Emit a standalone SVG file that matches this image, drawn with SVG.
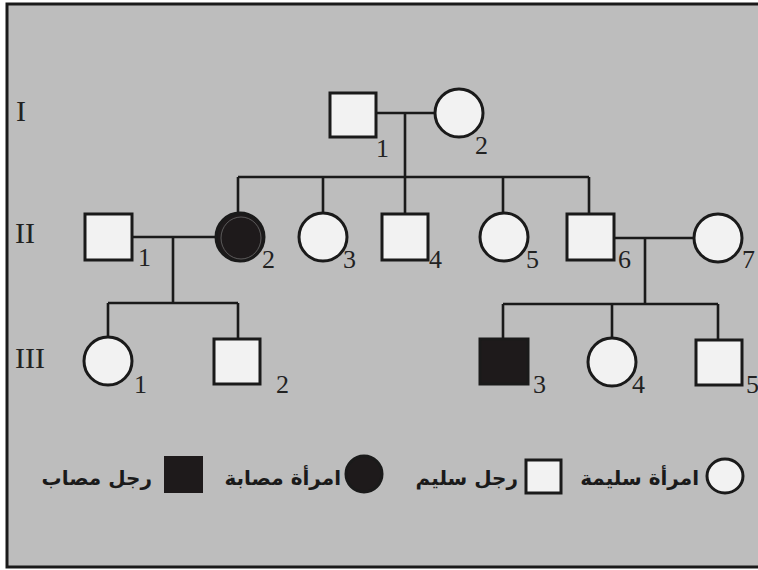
<svg xmlns="http://www.w3.org/2000/svg" width="758" height="570" viewBox="0 0 758 570">
<style>
.sq{fill:#f2f2f2;stroke:#1a1a1a;stroke-width:3}
.ci{fill:#f2f2f2;stroke:#1a1a1a;stroke-width:3}
.aff{fill:#1e1a1b;stroke:#1a1a1a;stroke-width:3}
.ln{stroke:#1a1a1a;stroke-width:2.6;fill:none}
.num{font-family:"Liberation Serif",serif;font-size:26px;fill:#222}
.gen{font-family:"Liberation Serif",serif;font-size:30px;fill:#222}
.ar{font-family:"DejaVu Sans",sans-serif;font-size:20px;font-weight:bold;fill:#1a1a1a}
</style>
<rect x="0" y="0" width="758" height="570" fill="#ffffff"/>
<rect x="7" y="4" width="760" height="563" fill="#bdbdbd" stroke="#1a1a1a" stroke-width="3"/>
<g id="generation-labels">
<text class="gen" x="16" y="121">I</text>
<text class="gen" x="15" y="243">II</text>
<text class="gen" x="15" y="368">III</text>
</g>
<g id="connectors">
<path class="ln" d="M376 113 H435 M405 113 V177 M238 177 H589 M238 177 V213 M323 177 V213 M405 177 V214 M503 177 V213 M589 177 V214"/>
<path class="ln" d="M132 237 H215 M173 237 V303 M108 303 H238 M108 303 V337 M238 303 V338"/>
<path class="ln" d="M615 238 H693 M645 238 V304 M503 304 H718 M503 304 V338 M612 304 V338 M718 304 V339"/>
</g>
<g id="I-1"><rect class="sq" x="330" y="93" width="46" height="44"/><text class="num" x="376" y="157">1</text></g>
<g id="I-2"><ellipse class="ci" cx="459" cy="113" rx="24" ry="24"/><text class="num" x="475" y="154">2</text></g>
<g id="II-1"><rect class="sq" x="85" y="214" width="47" height="46"/><text class="num" x="138" y="266">1</text></g>
<g id="II-2"><ellipse class="aff" cx="240" cy="237" rx="24" ry="24"/><ellipse cx="241" cy="238" rx="20" ry="21" fill="none" stroke="#6a6a6a" stroke-width="0.8"/><text class="num" x="262" y="268">2</text></g>
<g id="II-3"><ellipse class="ci" cx="323" cy="237" rx="24" ry="24"/><text class="num" x="343" y="268">3</text></g>
<g id="II-4"><rect class="sq" x="382" y="214" width="46" height="46"/><text class="num" x="429" y="268">4</text></g>
<g id="II-5"><ellipse class="ci" cx="504" cy="237" rx="24" ry="24"/><text class="num" x="526" y="268">5</text></g>
<g id="II-6"><rect class="sq" x="567" y="214" width="47" height="46"/><text class="num" x="618" y="268">6</text></g>
<g id="II-7"><ellipse class="ci" cx="718" cy="238" rx="24" ry="24"/><text class="num" x="742" y="268">7</text></g>
<g id="III-1"><ellipse class="ci" cx="108" cy="361" rx="24" ry="24"/><text class="num" x="134" y="393">1</text></g>
<g id="III-2"><rect class="sq" x="214" y="339" width="46" height="45"/><text class="num" x="276" y="393">2</text></g>
<g id="III-3"><rect class="aff" x="480" y="339" width="48" height="45"/><text class="num" x="533" y="393">3</text></g>
<g id="III-4"><ellipse class="ci" cx="612" cy="362" rx="24" ry="24"/><text class="num" x="632" y="393">4</text></g>
<g id="III-5"><rect class="sq" x="696" y="340" width="46" height="45"/><text class="num" x="746" y="393">5</text></g>
<g id="legend">
<ellipse class="ci" cx="725" cy="476" rx="18" ry="17" stroke-width="2.6"/>
<text class="ar" x="699" y="485" text-anchor="end">امرأة سليمة</text>
<rect class="sq" x="526" y="460" width="35" height="33" stroke-width="2.6"/>
<text class="ar" x="518" y="485" text-anchor="end">رجل سليم</text>
<ellipse class="aff" cx="364" cy="474" rx="18" ry="18" stroke-width="1.5"/>
<text class="ar" x="341" y="485" text-anchor="end">امرأة مصابة</text>
<rect x="164" y="456" width="39" height="37" fill="#1e1a1b"/>
<text class="ar" x="152" y="485" text-anchor="end">رجل مصاب</text>
</g>
</svg>
